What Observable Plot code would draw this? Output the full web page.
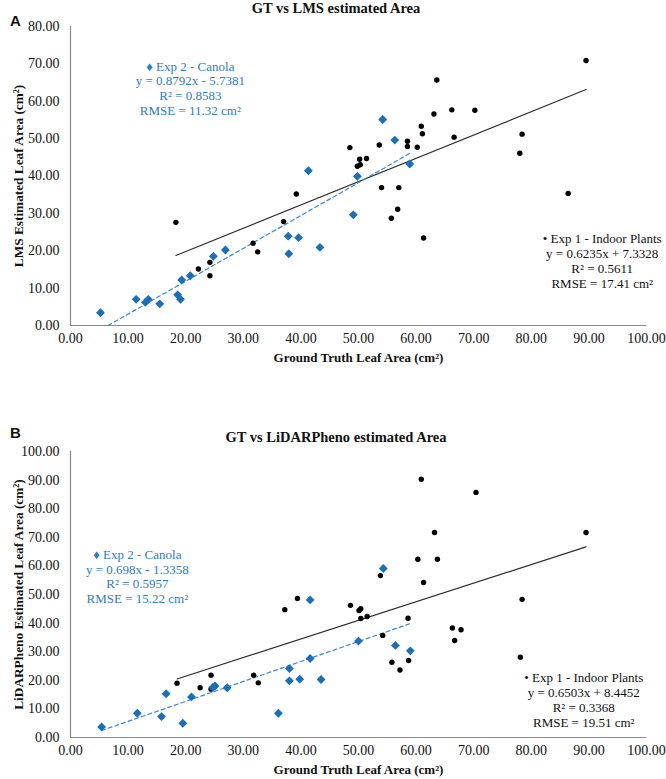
<!DOCTYPE html>
<html><head><meta charset="utf-8">
<script src="https://cdn.jsdelivr.net/npm/d3@7"></script>
<script src="https://cdn.jsdelivr.net/npm/@observablehq/plot@0.6"></script>
<style>
body{margin:0;background:#fff;}
#wrap{position:relative;width:666px;height:779px;font-family:"Liberation Serif","Times New Roman",serif;color:#111;}
.title{position:absolute;left:0;width:672px;text-align:center;font-weight:bold;font-size:14.5px;line-height:1;font-family:"Liberation Serif",serif;}
.tag{position:absolute;left:10px;font-family:"Liberation Sans",Arial,sans-serif;font-weight:bold;font-size:15px;line-height:1;}
#wrap svg{position:absolute;left:0;font-family:"Liberation Serif",serif;}
</style></head>
<body><div id="wrap"></div>
<script>
// ---------- data ----------
const xTicks = [0, 10, 20, 30, 40, 50, 60, 70, 80, 90, 100];
const yTicksA = [0, 10, 20, 30, 40, 50, 60, 70, 80];
const yTicksB = [0, 10, 20, 30, 40, 50, 60, 70, 80, 90, 100];

// Panel A: GT vs LMS
const lmsIndoorGT  = [18.3, 22.2, 24.2, 24.2, 31.7, 32.5, 37.0, 39.2, 89.5, 63.6, 63.1, 66.2, 70.2, 60.9, 61.1, 66.6, 78.4, 78.0, 48.5, 53.6, 58.5, 58.5, 60.2, 50.2, 51.4, 49.8, 50.3, 54.0, 57.0, 56.8, 55.7, 61.3, 86.4];
const lmsIndoorEst = [27.6, 15.1, 16.9, 13.3, 22.0, 19.7, 27.8, 35.2, 70.9, 65.7, 56.6, 57.7, 57.6, 53.3, 51.3, 50.4, 51.2, 46.1, 47.6, 48.3, 49.3, 47.9, 47.7, 44.5, 44.7, 42.6, 43.0, 36.9, 36.9, 31.1, 28.7, 23.4, 35.3];
const lmsCanolaGT  = [5.2, 11.4, 13.0, 13.5, 15.5, 18.6, 19.1, 19.3, 20.8, 24.8, 26.9, 37.8, 37.9, 39.6, 41.3, 43.3, 54.2, 56.3, 49.8, 58.9, 49.1];
const lmsCanolaEst = [3.4, 7.0, 6.2, 7.0, 5.8, 8.2, 7.0, 12.2, 13.3, 18.5, 20.2, 23.9, 19.2, 23.5, 41.4, 20.9, 55.1, 49.6, 39.9, 43.2, 29.6];

// Panel B: GT vs LiDARPheno
const lidarIndoorGT  = [18.5, 22.5, 24.4, 24.4, 31.8, 32.6, 37.2, 39.4, 60.9, 70.4, 89.5, 63.2, 60.3, 63.7, 61.3, 53.8, 78.4, 48.6, 50.1, 50.4, 50.4, 51.5, 58.6, 54.2, 66.3, 67.8, 66.7, 78.1, 55.8, 58.7, 57.2];
const lidarIndoorEst = [19.0, 17.4, 21.8, 16.9, 21.8, 19.1, 44.7, 48.6, 90.3, 85.7, 71.7, 71.7, 62.3, 62.3, 54.2, 56.6, 48.3, 46.2, 44.4, 45.0, 41.6, 42.3, 41.7, 35.7, 38.3, 37.7, 33.9, 28.1, 26.3, 26.9, 23.6];
const lidarCanolaGT  = [5.4, 11.6, 15.8, 16.6, 19.5, 21.0, 25.1, 24.7, 27.2, 36.1, 38.0, 38.0, 39.8, 41.6, 41.6, 43.5, 54.3, 50.0, 56.4, 59.0];
const lidarCanolaEst = [3.7, 8.5, 7.3, 15.3, 5.0, 14.2, 18.0, 17.5, 17.4, 8.5, 24.1, 19.8, 20.4, 27.6, 48.1, 20.3, 59.1, 33.7, 32.2, 30.3];

// fitted trendlines (slope, intercept) as printed on the chart
const lmsIndoorFit   = [0.6235, 7.3328];
const lmsCanolaFit   = [0.8792, -5.7381];
const lidarIndoorFit = [0.6503, 8.4452];
const lidarCanolaFit = [0.698, -1.3358];

const lmsIndoorText   = ["• Exp 1 - Indoor Plants", "y = 0.6235x + 7.3328", "R² = 0.5611", "RMSE = 17.41 cm²"];
const lmsCanolaText   = ["♦ Exp 2 - Canola", "y = 0.8792x - 5.7381", "R² = 0.8583", "RMSE = 11.32 cm²"];
const lidarIndoorText = ["• Exp 1 - Indoor Plants", "y = 0.6503x + 8.4452", "R² = 0.3368", "RMSE = 19.51 cm²"];
const lidarCanolaText = ["♦ Exp 2 - Canola", "y = 0.698x - 1.3358", "R² = 0.5957", "RMSE = 15.22 cm²"];

// ---------- drawing ----------
const BLUE = "#1b6fba", BLUE_TXT = "#2f7cc0", AXIS = "#8a8a8a";
const FONT = "Liberation Serif, Times New Roman, serif";

function pts(xs, ys) { return xs.map((x, i) => ({x, y: ys[i]})); }
function trend(xs, fit) {
  const [m, b] = fit;
  let [x0, x1] = d3.extent(xs);
  if (m * x0 + b < 0) x0 = -b / m;
  return [x0, x1].map(x => ({x, y: m * x + b}));
}

function panel(o) {
  const indoor = pts(o.indoorX, o.indoorY), canola = pts(o.canolaX, o.canolaY);
  return Plot.plot({
    width: 666, height: o.height,
    marginLeft: 70, marginRight: 20, marginTop: o.mt, marginBottom: o.mb,
    x: {domain: [0, 100]},
    y: {domain: [0, o.ymax]},
    style: {fontFamily: FONT, fontSize: "14px", color: "#111", background: "transparent", overflow: "visible"},
    marks: [
      Plot.axisX({ticks: xTicks, tickFormat: d => d.toFixed(2), tickSize: 0, tickPadding: 8, label: null, fontFamily: FONT}),
      Plot.axisY({ticks: o.yTicks, tickFormat: d => d.toFixed(2), tickSize: 0, tickPadding: 11, label: null, fontFamily: FONT}),
      Plot.ruleY([0], {stroke: AXIS, strokeWidth: 1.2}),
      Plot.ruleX([0], {stroke: AXIS, strokeWidth: 1.2}),
      Plot.line(trend(o.indoorX, o.indoorFit), {x: "x", y: "y", stroke: "#2b2b2b", strokeWidth: 1.1}),
      Plot.line(trend(o.canolaX, o.canolaFit), {x: "x", y: "y", stroke: "#3b88c8", strokeWidth: 1.2, strokeDasharray: "4,3"}),
      Plot.dot(indoor, {x: "x", y: "y", r: 2.7, fill: "#000", stroke: "none"}),
      Plot.dot(canola, {x: "x", y: "y", r: 4, symbol: "diamond2", fill: BLUE, stroke: "none"}),
      Plot.text([o.canolaText.join("\n")], {x: o.canolaPos[0], y: o.canolaPos[1], text: d => d, fill: BLUE_TXT, fontSize: 13, fontFamily: FONT, lineHeight: 1.15, textAnchor: "middle", lineAnchor: "middle"}),
      Plot.text([o.indoorText.join("\n")], {x: o.indoorPos[0], y: o.indoorPos[1], text: d => d, fill: "#111", fontSize: 13, fontFamily: FONT, lineHeight: 1.15, textAnchor: "middle", lineAnchor: "middle"}),
      Plot.text(["Ground Truth Leaf Area (cm²)"], {frameAnchor: "bottom", dy: 32, text: d => d, fontWeight: "bold", fontSize: 13, fontFamily: FONT, fill: "#111", textAnchor: "middle", lineAnchor: "middle"}),
      Plot.text([o.yLabel], {frameAnchor: "left", dx: -52, rotate: -90, text: d => d, fontWeight: "bold", fontSize: 13.3, fontFamily: FONT, fill: "#111", textAnchor: "middle", lineAnchor: "middle"})
    ]
  });
}

const wrap = document.getElementById("wrap");

const pA = panel({
  height: 370, mt: 26, mb: 45, ymax: 80, yTicks: yTicksA,
  indoorX: lmsIndoorGT, indoorY: lmsIndoorEst, canolaX: lmsCanolaGT, canolaY: lmsCanolaEst,
  indoorFit: lmsIndoorFit, canolaFit: lmsCanolaFit,
  indoorText: lmsIndoorText, canolaText: lmsCanolaText,
  canolaPos: [20.8, 63.5], indoorPos: [92.3, 17.3],
  yLabel: "LMS Estimated Leaf Area (cm²)"
});
pA.style.top = "0px";
wrap.appendChild(pA);

const pB = panel({
  height: 389, mt: 61, mb: 42, ymax: 100, yTicks: yTicksB,
  indoorX: lidarIndoorGT, indoorY: lidarIndoorEst, canolaX: lidarCanolaGT, canolaY: lidarCanolaEst,
  indoorFit: lidarIndoorFit, canolaFit: lidarCanolaFit,
  indoorText: lidarIndoorText, canolaText: lidarCanolaText,
  canolaPos: [11.6, 56.4], indoorPos: [89.1, 13.2],
  yLabel: "LiDARPheno Estimated Leaf Area (cm²)"
});
pB.style.top = "390px";
wrap.appendChild(pB);

function addDiv(cls, text, top) {
  const d = document.createElement("div");
  d.className = cls; d.textContent = text; d.style.top = top + "px";
  wrap.appendChild(d);
}
addDiv("title", "GT vs LMS estimated Area", 1);
addDiv("tag", "A", 13);
addDiv("title", "GT vs LiDARPheno estimated Area", 430);
addDiv("tag", "B", 425);
</script>
</body></html>
